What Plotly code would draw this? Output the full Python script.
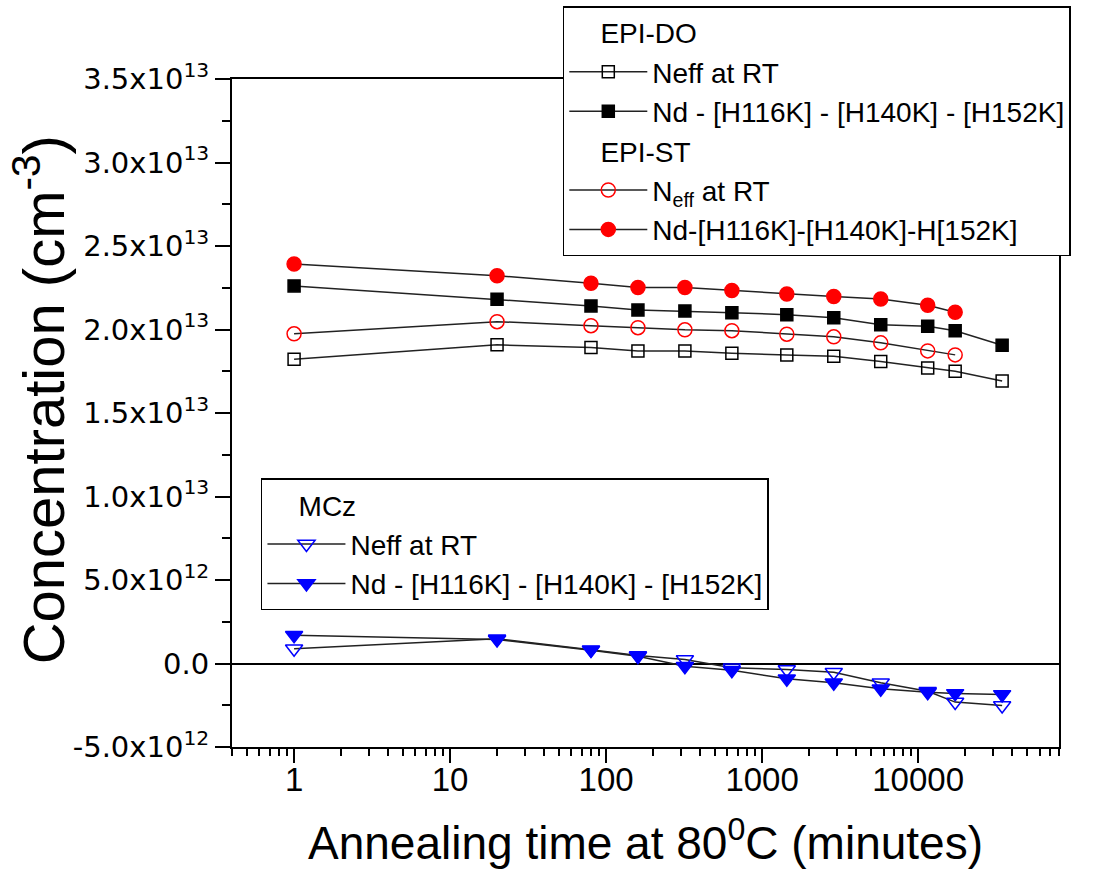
import plotly.graph_objects as go

# annealing times (minutes)
t_all = [1, 20, 80, 160, 320, 640, 1440, 2880, 5760, 11520, 17280, 34560]
t_st = [1, 20, 80, 160, 320, 640, 1440, 2880, 5760, 11520, 17280]

# EPI-DO
do_neff = [1.822e13, 1.908e13, 1.892e13, 1.872e13, 1.872e13, 1.858e13, 1.848e13, 1.840e13, 1.808e13, 1.770e13, 1.750e13, 1.691e13]
do_nd = [2.261e13, 2.181e13, 2.141e13, 2.117e13, 2.111e13, 2.101e13, 2.089e13, 2.071e13, 2.028e13, 2.020e13, 1.993e13, 1.906e13]

# EPI-ST
st_neff = [1.974e13, 2.047e13, 2.023e13, 2.011e13, 1.998e13, 1.993e13, 1.972e13, 1.956e13, 1.920e13, 1.872e13, 1.848e13]
st_nd = [2.392e13, 2.322e13, 2.277e13, 2.251e13, 2.251e13, 2.233e13, 2.213e13, 2.197e13, 2.183e13, 2.145e13, 2.103e13]

# MCz
mcz_neff = [0.88e12, 1.48e12, 0.83e12, 0.48e12, 0.24e12, -0.26e12, -0.36e12, -0.52e12, -1.15e12, -1.66e12, -2.31e12, -2.51e12]
mcz_nd = [1.69e12, 1.44e12, 0.80e12, 0.44e12, -0.16e12, -0.40e12, -0.92e12, -1.15e12, -1.51e12, -1.72e12, -1.79e12, -1.85e12]

y_tickvals = [-5e12, 0, 5e12, 1e13, 1.5e13, 2e13, 2.5e13, 3e13, 3.5e13]
y_ticktext = ["-5.0x10<sup>12</sup>", "0.0", "5.0x10<sup>12</sup>", "1.0x10<sup>13</sup>",
              "1.5x10<sup>13</sup>", "2.0x10<sup>13</sup>", "2.5x10<sup>13</sup>",
              "3.0x10<sup>13</sup>", "3.5x10<sup>13</sup>"]
x_tickvals = [1, 10, 100, 1000, 10000]
x_ticktext = ["1", "10", "100", "1000", "10000"]

FONT = "Arial, Liberation Sans, sans-serif"
LINE = dict(color="#222222", width=1.5)
IND = "\u00a0" * 4

fig = go.Figure()

def add(x, y, name, symbol, color, size, group, gtitle, legend):
    fig.add_trace(go.Scatter(
        x=x, y=y, mode="lines+markers", name=name,
        line=LINE,
        marker=dict(symbol=symbol, color=color, size=size,
                    line=dict(color=color, width=1.5)),
        legendgroup=group, legendgrouptitle_text=IND + gtitle, legend=legend,
    ))

add(t_all, do_neff, "Neff at RT", "square-open", "black", 12, "do", "EPI-DO", "legend")
add(t_all, do_nd, "Nd - [H116K] - [H140K] - [H152K]", "square", "black", 12, "do", "EPI-DO", "legend")
add(t_st, st_neff, "N<sub>eff</sub> at RT", "circle-open", "red", 14, "st", "EPI-ST", "legend")
add(t_st, st_nd, "Nd-[H116K]-[H140K]-H[152K]", "circle", "red", 14, "st", "EPI-ST", "legend")
add(t_all, mcz_neff, "Neff at RT", "triangle-down-open", "blue", 15, "mcz", "MCz", "legend2")
add(t_all, mcz_nd, "Nd - [H116K] - [H140K] - [H152K]", "triangle-down", "blue", 15, "mcz", "MCz", "legend2")

minor_x = []
for dec in [0.1, 1, 10, 100, 1000, 10000]:
    for k in range(2, 10):
        v = k * dec
        if 0.39 < v < 80001:
            minor_x.append(v)

fig.update_layout(
    width=1099, height=870,
    margin=dict(l=232, r=40, t=79, b=123, autoexpand=False),
    paper_bgcolor="white", plot_bgcolor="white",
    font=dict(family=FONT, color="black"),
    xaxis=dict(
        type="log", range=[-0.39794, 4.90309],
        tickmode="array", tickvals=x_tickvals, ticktext=x_ticktext,
        ticks="outside", ticklen=14, tickwidth=2, tickcolor="black",
        showline=True, linewidth=2, linecolor="black", mirror=True,
        showgrid=False, zeroline=False,
        ticklabelstandoff=-12,
        tickfont=dict(size=33, family=FONT),
        minor=dict(tickmode="array", tickvals=minor_x, ticks="outside",
                   ticklen=7, tickwidth=2, tickcolor="black", showgrid=False),
    ),
    yaxis=dict(
        range=[-5e12, 3.5e13],
        tickmode="array", tickvals=y_tickvals, ticktext=y_ticktext,
        ticks="outside", ticklen=15, tickwidth=2, tickcolor="black",
        showline=True, linewidth=2, linecolor="black", mirror=True,
        showgrid=False, zeroline=True, zerolinecolor="black", zerolinewidth=2,
        tickfont=dict(size=29, family="DejaVu Sans, sans-serif"),
        minor=dict(tickmode="array",
                   tickvals=[-2.5e12, 2.5e12, 7.5e12, 1.25e13, 1.75e13, 2.25e13, 2.75e13, 3.25e13],
                   ticks="outside", ticklen=8, tickwidth=2, tickcolor="black", showgrid=False),
    ),
    legend=dict(
        x=0.400, y=1.109, xanchor="left", yanchor="top",
        bgcolor="white", bordercolor="black", borderwidth=1.5,
        font=dict(size=28, family=FONT), tracegroupgap=0,
        grouptitlefont=dict(size=28, family=FONT),
        itemwidth=78,
    ),
    legend2=dict(
        x=0.035, y=0.402, xanchor="left", yanchor="top",
        bgcolor="white", bordercolor="black", borderwidth=1.5,
        font=dict(size=28, family=FONT), tracegroupgap=0,
        grouptitlefont=dict(size=28, family=FONT),
        itemwidth=78,
    ),
    annotations=[
        dict(text="Annealing time at 80<sup>0</sup>C (minutes)", xref="paper", yref="paper",
             x=0.5, y=-0.139, xanchor="center", yanchor="middle", showarrow=False,
             font=dict(size=46, family=FONT)),
        dict(text="Concentration (cm<sup>-3</sup>)", xref="paper", yref="paper",
             x=-0.2325, y=0.52, xanchor="center", yanchor="middle", showarrow=False,
             textangle=-90, font=dict(size=58, family=FONT)),
    ],
)

fig.write_html("out.html")
